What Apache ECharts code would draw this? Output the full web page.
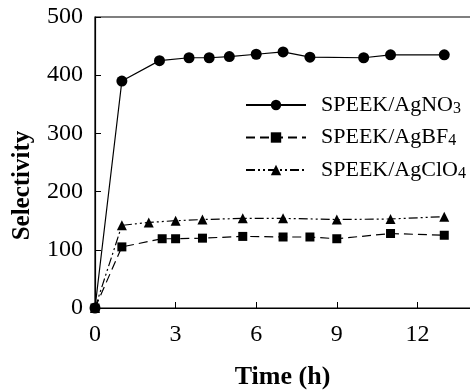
<!DOCTYPE html>
<html>
<head>
<meta charset="utf-8">
<script src="https://cdn.jsdelivr.net/npm/echarts@6/dist/echarts.min.js"></script>
<style>
  html, body { margin: 0; padding: 0; background: #fff; }
  #chart { width: 470px; height: 392px; }
</style>
</head>
<body>
<div id="chart"></div>
<script>
// data
const timeNO3 = [0, 1, 2.4, 3.5, 4.25, 5, 6, 7, 8, 10, 11, 13];
const selNO3 = [0, 390, 425, 430, 430, 432, 436, 440, 431, 430, 435, 435];
const timeBF4 = [0, 1, 2.5, 3, 4, 5.5, 7, 8, 9, 11, 13];
const selBF4 = [0, 105, 119, 119, 120, 123, 122, 122, 119, 128, 125];
const timeClO4 = [0, 1, 2, 3, 4, 5.5, 7, 9, 11, 13];
const selClO4 = [0, 142, 147, 150, 152, 154, 154, 152, 153, 157];
const names = ['SPEEK/AgNO{s|3}', 'SPEEK/AgBF{s|4}', 'SPEEK/AgClO{s|4}'];

const pairs = (xs, ys) => xs.map((x, i) => [x, ys[i]]);
const font = 'Liberation Serif';

const chart = echarts.init(document.getElementById('chart'));

const mkSeries = (name, data, symbol, size, dash) => ({
  name: name,
  type: 'line',
  data: data,
  symbol: symbol,
  symbolSize: size,
  showSymbol: true,
  color: '#000',
  itemStyle: { color: '#000' },
  lineStyle: { color: '#000', width: 1.2, type: dash },
  animation: false,
  z: 3
});

chart.setOption({
  animation: false,
  grid: {
    left: 95, top: 17, bottom: 84, right: -28,
    outerBoundsMode: 'none',
    show: true, borderColor: '#000', borderWidth: 1.2
  },
  legend: {
    orient: 'vertical',
    left: 240, top: 89,
    itemWidth: 60, itemHeight: 13, itemGap: 10,
    data: names,
    textStyle: {
      fontFamily: font, fontSize: 22, color: '#000',
      padding: [0, 0, 0, 10],
      rich: {
        s: { fontFamily: font, fontSize: 16, color: '#000', verticalAlign: 'bottom', padding: [7, 0, 0, 0] }
      }
    }
  },
  xAxis: {
    type: 'value', min: 0, max: 15, interval: 3,
    name: 'Time (h)', nameLocation: 'middle', nameGap: 56,
    nameTextStyle: { fontFamily: font, fontSize: 26, fontWeight: 'bold', color: '#000', padding: [0, 28, 0, 0] },
    axisLine: { lineStyle: { color: '#000', width: 1.2 } },
    axisTick: { inside: true, length: 6, lineStyle: { color: '#000' } },
    axisLabel: { fontFamily: font, fontSize: 24, color: '#000', margin: 15 },
    splitLine: { show: false }
  },
  yAxis: {
    type: 'value', min: 0, max: 500, interval: 100,
    name: 'Selectivity', nameLocation: 'middle', nameRotate: 90, nameGap: 60,
    nameTextStyle: { fontFamily: font, fontSize: 25, fontWeight: 'bold', color: '#000', padding: [0, 46, 0, 0] },
    axisLine: { lineStyle: { color: '#000', width: 1.2 } },
    axisTick: { inside: true, length: 6, lineStyle: { color: '#000' } },
    axisLabel: { fontFamily: font, fontSize: 24, color: '#000', margin: 12 },
    splitLine: { show: false }
  },
  series: [
    mkSeries(names[0], pairs(timeNO3, selNO3), 'circle', 11, 'solid'),
    mkSeries(names[1], pairs(timeBF4, selBF4), 'rect', 9, [9, 5]),
    mkSeries(names[2], pairs(timeClO4, selClO4), 'triangle', 10, [9, 3, 2, 3, 2, 3])
  ]
});
</script>
</body>
</html>
